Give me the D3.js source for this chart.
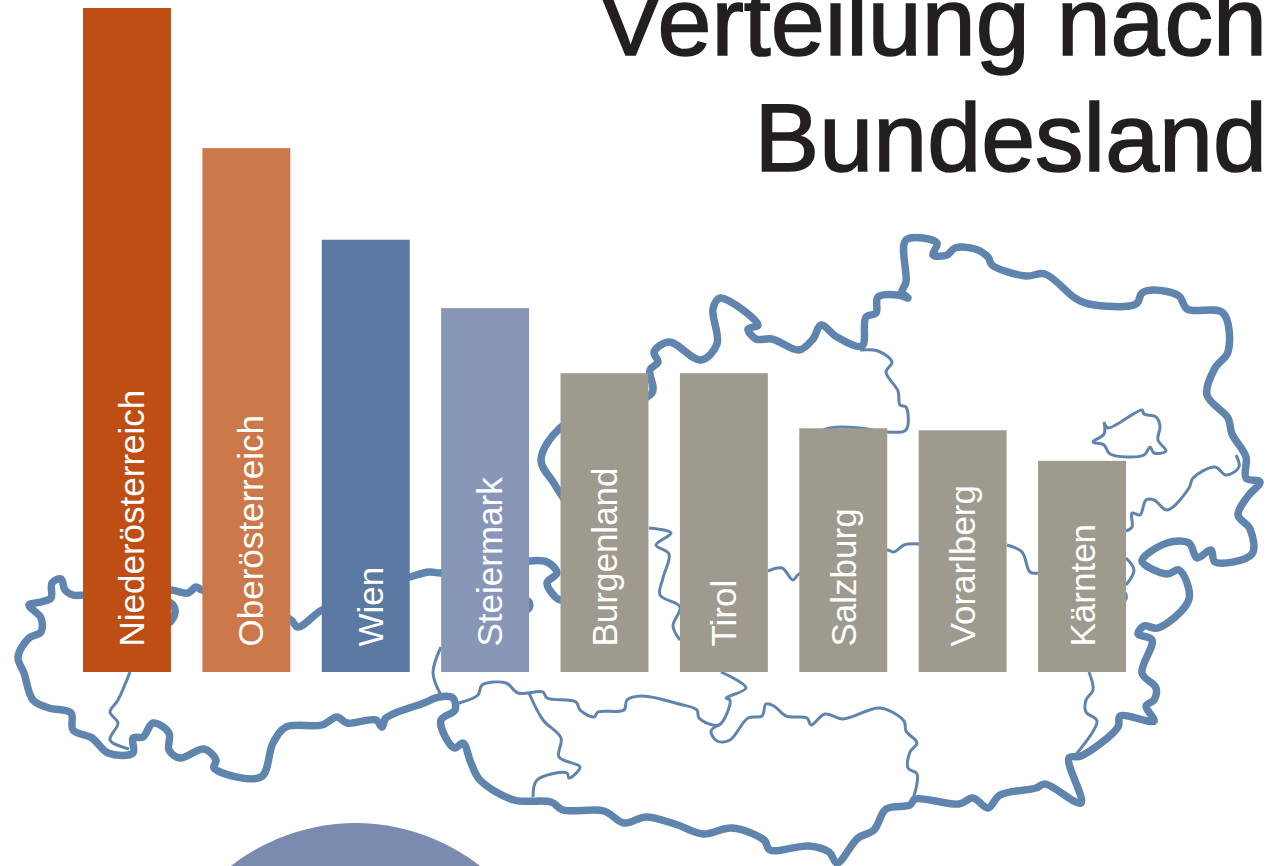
<!DOCTYPE html>
<html lang="de">
<head>
    <meta charset="UTF-8">
    <title>Verteilung nach Bundesland</title>
    <script src="https://d3js.org/d3.v7.min.js"></script>
    <style>
        html, body { margin: 0; padding: 0; background: #fff; overflow: hidden; }
        svg { display: block; }
        text { font-family: "Liberation Sans", Arial, sans-serif; }
        .title { font-size: 97px; fill: #231f20; stroke: #231f20; stroke-width: 1.6px; text-anchor: end; }
        .label { font-size: 35px; fill: #fff; }
    </style>
</head>
<body>
    <svg id="chart"></svg>
    <script>
        // Werte aus dem Bild geschaetzt (groesster Balken = 100)
        const bundeslaender = ["Niederösterreich", "Oberösterreich", "Wien", "Steiermark", "Burgenland", "Tirol", "Salzburg", "Vorarlberg", "Kärnten"];
        const werte = [100, 78.9, 65.1, 54.8, 45.0, 45.0, 36.7, 36.4, 31.8];
        const farben = ["#be4e13", "#cc784a", "#5c79a3", "#8896b8", "#9e9a8d", "#9e9a8d", "#9e9a8d", "#9e9a8d", "#9e9a8d"];
        const titelZeilen = ["Verteilung nach", "Bundesland"];

        // Landkarte im Hintergrund, Grenzen von Hand nachgezeichnet
        const grenzeAussen = [[84,595],[73,595],[65,590],[61,579],[52,583],[51,598],[41,602],[29,605],[41,618],[41,632],[29,638],[18,657],[24,673],[33,700],[49,708],[71,713],[73,730],[92,738],[108,753],[133,753],[133,738],[143,737],[153,723],[169,733],[169,750],[180,758],[204,749],[216,760],[214,768],[261,777],[273,743],[286,727],[322,725],[337,717],[347,723],[376,720],[382,727],[386,718],[424,703],[439,697],[453,698],[455,710],[441,720],[447,740],[455,748],[463,743],[471,763],[480,780],[514,800],[551,802],[563,810],[604,811],[624,823],[646,817],[675,824],[703,834],[732,828],[764,840],[770,850],[809,846],[829,852],[837,863],[858,838],[874,830],[886,809],[910,805],[915,799],[959,804],[973,798],[988,808],[1000,795],[1036,788],[1045,784],[1081,803],[1069,758],[1081,756],[1118,727],[1120,716],[1154,721],[1146,706],[1154,700],[1156,688],[1142,673],[1152,640],[1138,634],[1144,626],[1158,628],[1189,599],[1179,570],[1167,574],[1142,561],[1167,543],[1189,543],[1197,558],[1211,550],[1215,562],[1252,554],[1250,529],[1238,515],[1248,496],[1260,482],[1246,478],[1246,457],[1232,434],[1228,418],[1207,395],[1215,368],[1228,352],[1223,313],[1187,309],[1179,296],[1154,290],[1142,293],[1136,304],[1089,304],[1075,298],[1045,274],[1026,276],[992,265],[988,257],[975,249],[955,248],[947,255],[933,255],[937,243],[906,240],[906,282],[902,292],[908,298],[898,295],[878,297],[876,313],[866,317],[862,346],[837,337],[821,325],[813,339],[799,350],[772,339],[756,339],[748,329],[758,325],[720,298],[713,309],[717,344],[701,360],[669,342],[654,352],[658,362],[650,370],[652,393],[600,410],[560,428],[541,460],[555,485],[575,520],[580,570],[561,600],[547,583],[557,573],[547,562],[529,561],[441,573],[429,572],[410,577],[370,590],[322,610],[298,627],[291,620],[250,600],[202,590],[196,587],[188,593],[171,590],[130,590],[84,595]];
        const grenzenDick = [
            [[165,600],[173,605],[175,613],[169,623],[160,625]],
            [[522,598],[529,602],[529,608],[522,612]],
            [[1116,588],[1122,592],[1124,598],[1116,604]]
        ];
        const grenzenInnen = [
            [[130,672],[118,700],[110,712],[118,723],[110,740],[129,749]],
            [[441,647],[433,673],[441,695]],
            [[459,703],[478,695],[482,685],[506,683],[518,693],[543,692],[547,698],[576,702],[580,710],[594,717],[598,712],[624,710],[627,700],[642,696],[679,704],[697,710],[699,718],[719,725],[730,700],[726,698],[746,688],[721,672]],
            [[719,725],[711,731],[717,741],[730,740],[748,718],[762,716],[766,704],[774,706],[786,716],[807,718],[811,725],[825,714],[843,719],[880,708],[904,721],[906,731],[917,743],[910,752],[908,768],[917,774],[913,799]],
            [[529,693],[543,720],[561,738],[559,757],[580,767],[569,778],[567,773],[537,780],[533,797]],
            [[649,528],[671,533],[656,545],[669,554],[663,578],[660,595],[680,607],[673,626],[680,640]],
            [[768,571],[782,568],[793,580],[799,574],[887,550],[894,552],[904,545],[919,544]],
            [[1007,545],[1022,552],[1030,572],[1038,573]],
            [[1104,422],[1108,428],[1142,410],[1144,414],[1156,417],[1160,426],[1158,440],[1166,451],[1154,453],[1150,447],[1144,455],[1110,454],[1104,445],[1093,442],[1104,434],[1104,422]],
            [[1126,531],[1132,527],[1132,513],[1140,515],[1146,500],[1154,500],[1167,510],[1189,488],[1193,478],[1215,467],[1226,475],[1239,467],[1236,455]],
            [[860,350],[878,351],[892,362],[886,372],[898,391],[900,405],[906,407],[906,430],[887,432],[860,428],[830,428],[800,440]],
            [[1126,558],[1134,570],[1126,585]],
            [[1089,672],[1093,690],[1086,700],[1086,712],[1097,721],[1073,758]]
        ];

        const width = 1267, height = 866;
        const svg = d3.select("#chart").attr("width", width).attr("height", height);

        const x = d3.scaleBand()
            .domain(bundeslaender)
            .range([83, 1126])
            .paddingInner(0.2635);

        const y = d3.scaleLinear()
            .domain([0, 100])
            .range([672, 8]);

        const linie = d3.line().curve(d3.curveCatmullRom.alpha(0.5));

        svg.append("g")
            .selectAll("path")
            .data(grenzenInnen)
            .enter()
            .append("path")
            .attr("d", d => linie(d))
            .attr("fill", "none")
            .attr("stroke", "#5f84ad")
            .attr("stroke-width", 3)
            .attr("stroke-linejoin", "round");

        svg.append("g")
            .selectAll("path")
            .data([grenzeAussen].concat(grenzenDick))
            .enter()
            .append("path")
            .attr("d", d => linie(d))
            .attr("fill", "none")
            .attr("stroke", "#5f84ad")
            .attr("stroke-width", 7.5)
            .attr("stroke-linejoin", "round");

        svg.append("circle")
            .attr("cx", 355.5)
            .attr("cy", 1025)
            .attr("r", 202)
            .attr("fill", "#7b8bb0");

        svg.selectAll(".bar")
            .data(bundeslaender)
            .enter()
            .append("rect")
            .attr("class", "bar")
            .attr("x", d => x(d))
            .attr("y", (d, i) => y(werte[i]))
            .attr("width", x.bandwidth())
            .attr("height", (d, i) => y(0) - y(werte[i]))
            .attr("fill", (d, i) => farben[i]);

        // Beschriftung um 90 Grad gedreht, unten im Balken
        svg.selectAll(".label")
            .data(bundeslaender)
            .enter()
            .append("text")
            .attr("class", "label")
            .attr("transform", (d, i) => `translate(${x(d) + x.bandwidth() / 2 + (i < 4 ? 17 : 12.5)},646.5) rotate(-90)`)
            .text(d => d);

        svg.selectAll(".title")
            .data(titelZeilen)
            .enter()
            .append("text")
            .attr("class", "title")
            .attr("x", 1267)
            .attr("y", (d, i) => 55 + i * 116)
            .text(d => d);
    </script>
</body>
</html>
